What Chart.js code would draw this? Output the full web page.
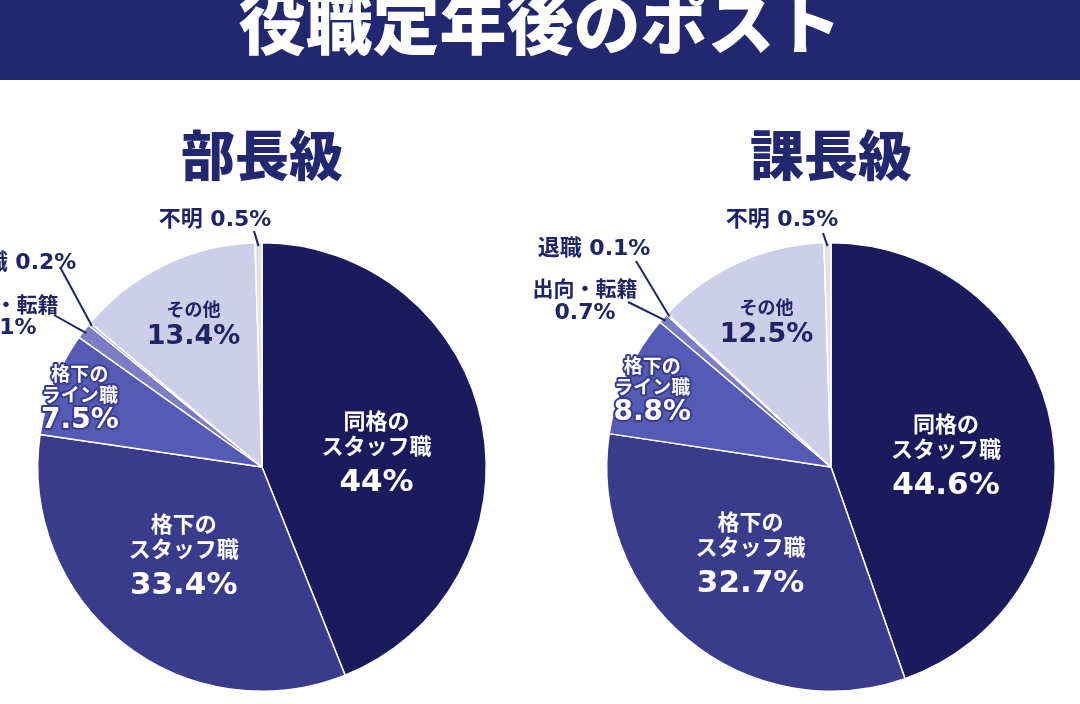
<!DOCTYPE html>
<html lang="ja">
<head>
<meta charset="utf-8">
<script src="https://cdn.jsdelivr.net/npm/chart.js@4"></script>
<style>
  html, body { margin: 0; padding: 0; background: #fff; }
  body { width: 1080px; height: 704px; position: relative; overflow: hidden;
         font-family: "Noto Sans CJK JP", "Noto Sans", sans-serif; }
  .band { position: absolute; left: 0; top: 0; width: 1080px; height: 80px; background: #22286f; overflow: hidden; }
  .band h1 { position: absolute; left: 0; width: 1080px; top: -14px; margin: 0; text-align: center;
             color: #fff; font-size: 67px; line-height: 67px; font-weight: 900; }
  .sub { position: absolute; top: 126px; width: 300px; margin: 0; text-align: center;
         color: #22286f; font-size: 54px; line-height: 54px; font-weight: 900; }
  canvas { position: absolute; left: 0; top: 0; }
</style>
</head>
<body>
<div class="band"><h1>役職定年後のポスト</h1></div>
<div class="sub" style="left:112px">部長級</div>
<div class="sub" style="left:681px">課長級</div>
<canvas id="buchoChart" width="1080" height="704"></canvas>
<canvas id="kachoChart" width="1080" height="704"></canvas>
<script>
// categories, clockwise from 12 o'clock
const categories = ["同格のスタッフ職", "格下のスタッフ職", "格下のライン職", "出向・転籍", "退職", "その他", "不明"];
const buchoValues = [44, 33.4, 7.5, 1.1, 0.2, 13.4, 0.5];
const kachoValues = [44.6, 32.7, 8.8, 0.7, 0.1, 12.5, 0.5];
const buchoLabels = ["44%", "33.4%", "7.5%", "1.1%", "0.2%", "13.4%", "0.5%"];
const kachoLabels = ["44.6%", "32.7%", "8.8%", "0.7%", "0.1%", "12.5%", "0.5%"];

const colors = ["#191b5c", "#383c8b", "#555bb5", "#7b7ec4", "#a2a4d6", "#cdcfe8", "#e2e2e2"];
const navy = "#1f2466";
const font = '"DejaVu Sans", "Noto Sans CJK JP", sans-serif';
const jp = '"Noto Sans CJK JP", sans-serif';

// how each slice label is drawn: inside (radius fraction) or outside with a leader line
const labelStyle = [
  { inside: true, r: 0.52, lines: ["同格の", "スタッフ職"], dy: [-24, 1, 38], fs: 22, pfs: 31, color: "#fff", halo: "#191b5c" },
  { inside: true, r: 0.52, lines: ["格下の", "スタッフ職"], dy: [-35, -10, 27], dx: -6, fs: 22, pfs: 31, color: "#fff", halo: "#383c8b" },
  { inside: true, r: 0.875, lines: ["格下の", "ライン職"], dy: [-20, 1, 27], fs: 19, pfs: 28, color: "#fff", halo: "#383c8b" },
  { inside: false, name: "出向・転籍", twoLine: true },
  { inside: false, name: "退職" },
  { inside: true, r: 0.73, lines: ["その他"], dy: [-11, 17], dx: 3, fs: 18, pfs: 27, color: navy, halo: null },
  { inside: false, name: "不明" }
];

// outside labels: text anchor offset from the pie centre, and where the leader line leaves the text
const outsideBucho = {
  3: { at: [-256, -163], lead: [48, 11], gap: 24 },
  4: { at: [-242, -204], lead: [40, 4] },
  6: { at: [-47, -247], lead: [39, 11] }
};
const outsideKacho = {
  3: { at: [-246, -179], lead: [43, 14], gap: 25 },
  4: { at: [-237, -218], lead: [42, 12] },
  6: { at: [-49, -247], lead: [41, 13] }
};

function makeLabelPlugin(pctLabels, outside) {
  return {
    id: "sliceLabels",
    afterDatasetsDraw(chart) {
      const ctx = chart.ctx;
      const arcs = chart.getDatasetMeta(0).data;
      ctx.save();
      ctx.textAlign = "center";
      ctx.textBaseline = "middle";
      arcs.forEach((arc, i) => {
        const p = arc.getProps(["x", "y", "startAngle", "endAngle", "outerRadius"], true);
        const mid = (p.startAngle + p.endAngle) / 2;
        const st = labelStyle[i];
        if (st.inside) {
          const cx = p.x + Math.cos(mid) * p.outerRadius * st.r + (st.dx || 0);
          const cy = p.y + Math.sin(mid) * p.outerRadius * st.r;
          const texts = st.lines.concat([pctLabels[i]]);
          texts.forEach((t, k) => {
            const isPct = k === texts.length - 1;
            ctx.font = isPct ? "bold " + st.pfs + "px " + font : "bold " + st.fs + "px " + jp;
            const y = cy + st.dy[k];
            if (st.halo) {
              ctx.lineJoin = "round";
              ctx.lineWidth = 4;
              ctx.strokeStyle = st.halo;
              ctx.strokeText(t, cx, y);
            }
            ctx.fillStyle = st.color;
            ctx.fillText(t, cx, y);
          });
        } else {
          const o = outside[i];
          const tx = p.x + o.at[0], ty = p.y + o.at[1];
          // leader line from the label to the slice edge
          const ex = p.x + Math.cos(mid) * p.outerRadius * 0.985;
          const ey = p.y + Math.sin(mid) * p.outerRadius * 0.985;
          ctx.strokeStyle = navy;
          ctx.lineWidth = 2;
          ctx.beginPath();
          ctx.moveTo(tx + o.lead[0], ty + o.lead[1]);
          ctx.lineTo(ex, ey);
          ctx.stroke();
          ctx.fillStyle = navy;
          ctx.font = "bold 22px " + font;
          if (st.twoLine) {
            ctx.font = "bold 21px " + jp;
            ctx.fillText(st.name, tx, ty);
            ctx.font = "bold 22px " + font;
            ctx.fillText(pctLabels[i], tx, ty + o.gap);
          } else {
            ctx.fillText(st.name + " " + pctLabels[i], tx, ty);
          }
        }
      });
      ctx.restore();
    }
  };
}

function makePie(id, values, pctLabels, outside, padding) {
  return new Chart(document.getElementById(id).getContext("2d"), {
    type: "pie",
    data: {
      labels: categories,
      datasets: [{
        data: values,
        backgroundColor: colors,
        borderColor: "#ffffff",
        borderWidth: 1.5
      }]
    },
    options: {
      responsive: false,
      animation: false,
      layout: { padding: padding },
      plugins: { legend: { display: false }, tooltip: { enabled: false } }
    },
    plugins: [makeLabelPlugin(pctLabels, outside)]
  });
}

makePie("buchoChart", buchoValues, buchoLabels, outsideBucho, { left: 37, right: 593, top: 242, bottom: 12 });
makePie("kachoChart", kachoValues, kachoLabels, outsideKacho, { left: 606, right: 24, top: 242, bottom: 12 });
</script>
</body>
</html>
